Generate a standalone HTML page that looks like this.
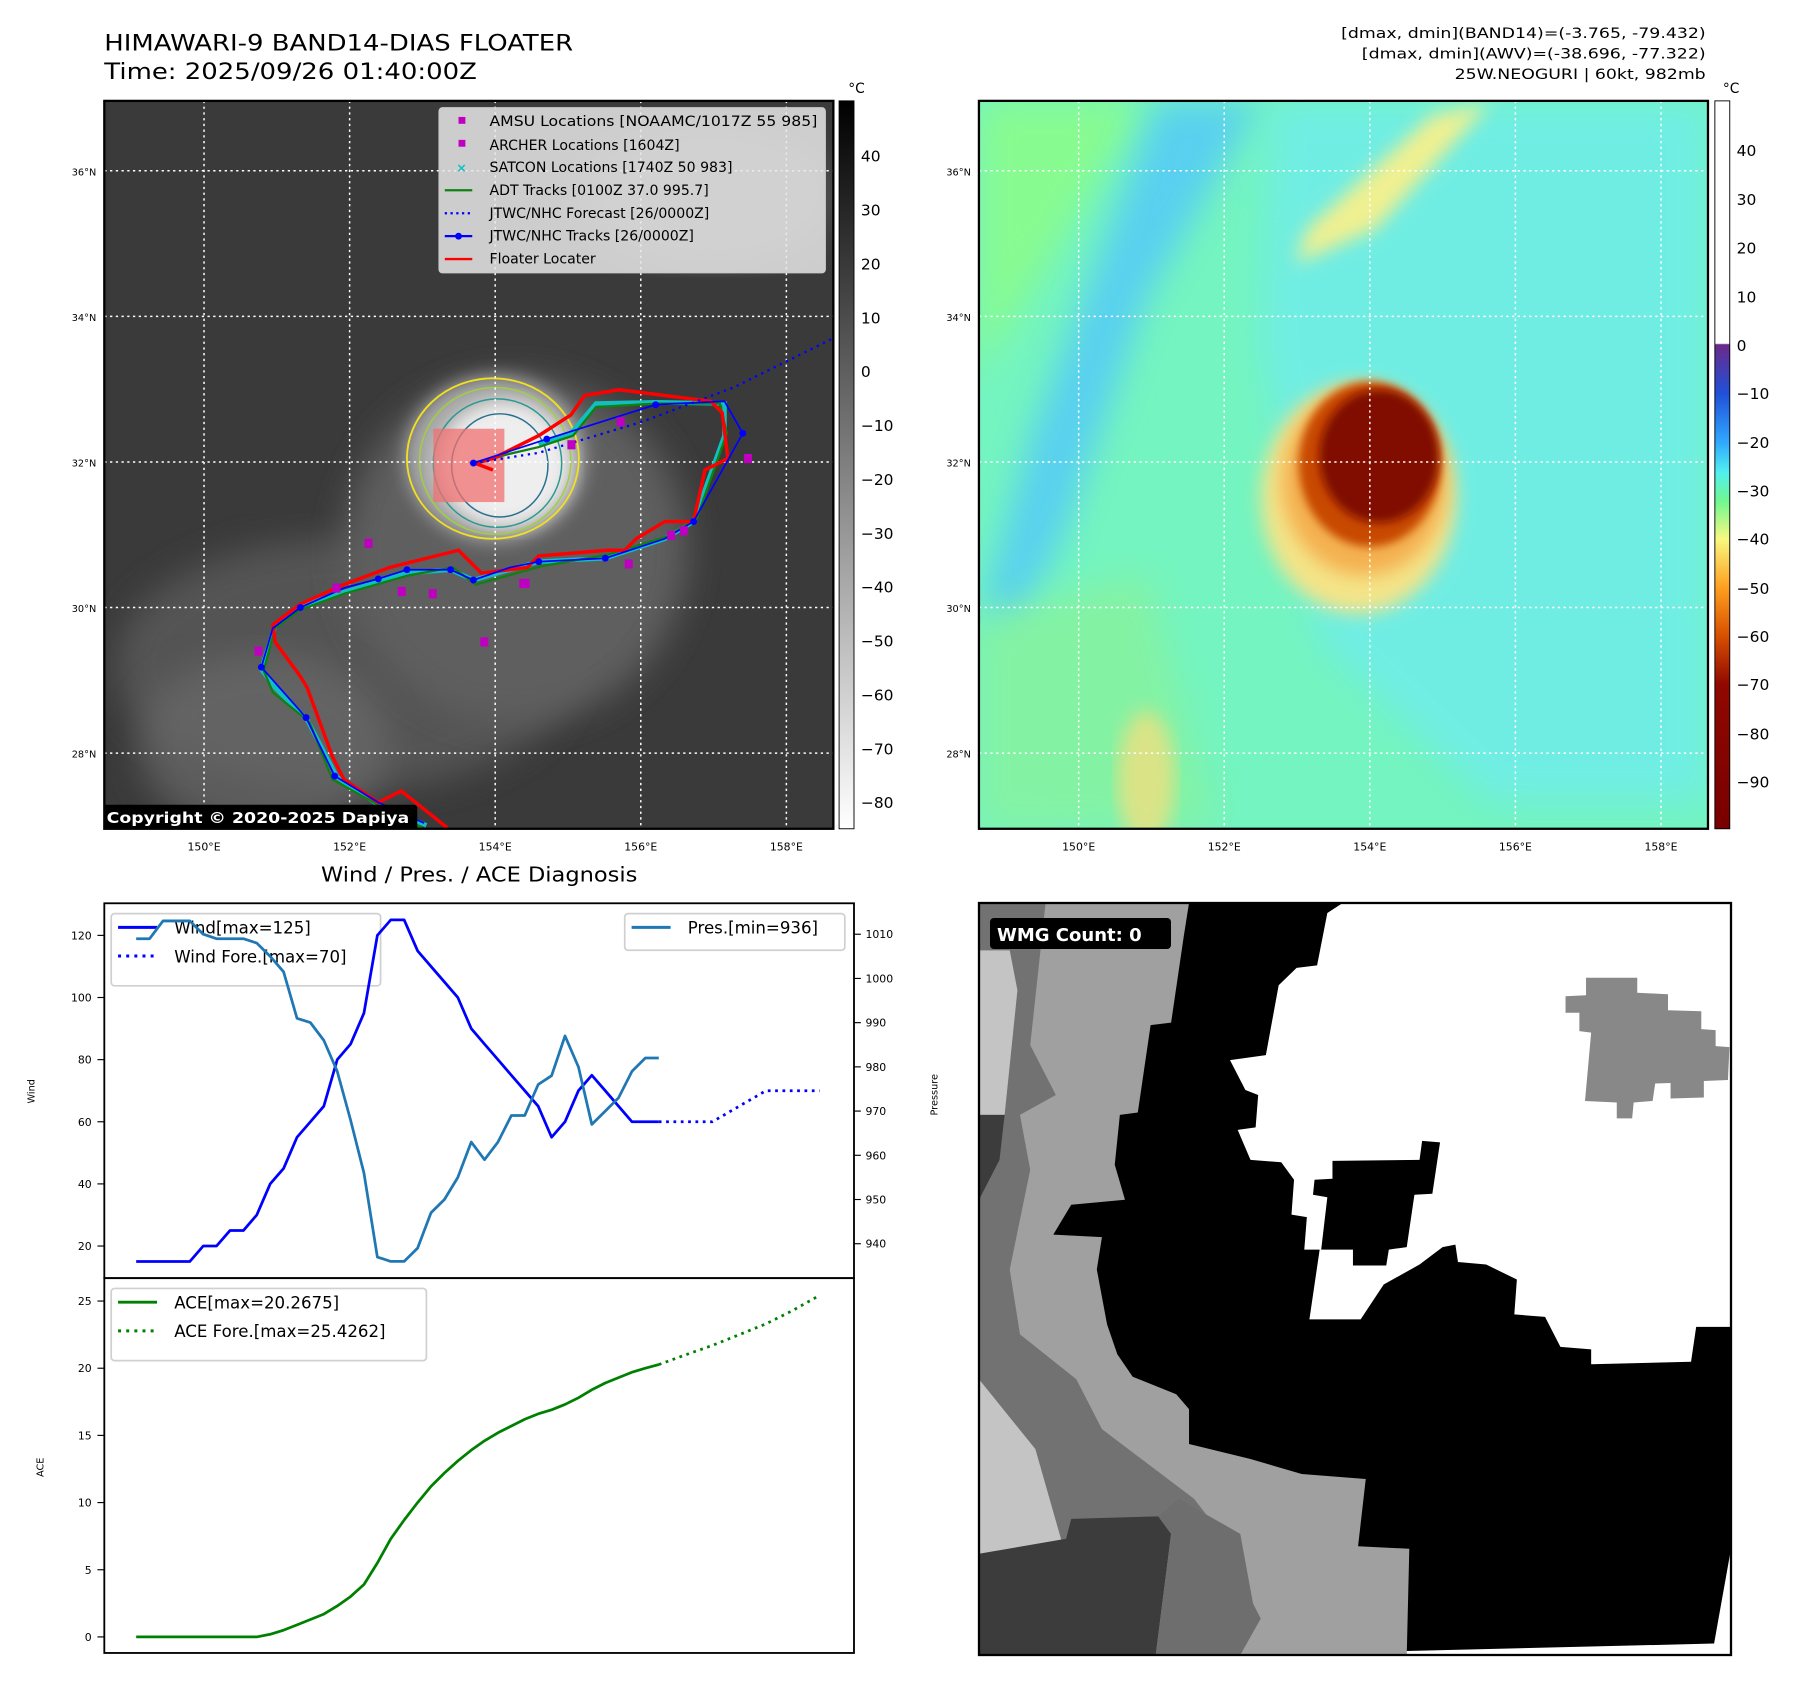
<!DOCTYPE html>
<html><head><meta charset="utf-8"><style>
html,body{margin:0;padding:0;background:#fff;width:1797px;height:1690px;overflow:hidden}
svg{display:block}
text{font-family:"DejaVu Sans","Liberation Sans",sans-serif}
</style></head><body>
<svg id="root" width="1797" height="1690" viewBox="0 0 1797 1690" xmlns="http://www.w3.org/2000/svg">
<defs>
<linearGradient id="gcb" x1="0" y1="0" x2="0" y2="1"><stop offset="0" stop-color="#000"/><stop offset="1" stop-color="#fff"/></linearGradient>
<linearGradient id="ccb" x1="0" y1="0" x2="0" y2="1">
<stop offset="0" stop-color="#fff"/><stop offset="0.333" stop-color="#fff"/><stop offset="0.335" stop-color="#6a2a8a"/>
<stop offset="0.402" stop-color="#2050d8"/><stop offset="0.469" stop-color="#30a8ff"/><stop offset="0.51" stop-color="#50f0f0"/>
<stop offset="0.55" stop-color="#70f890"/><stop offset="0.602" stop-color="#f8f880"/><stop offset="0.668" stop-color="#ffa020"/>
<stop offset="0.735" stop-color="#d85000"/><stop offset="0.802" stop-color="#900800"/><stop offset="1" stop-color="#780000"/></linearGradient>
<filter id="bl8"><feGaussianBlur stdDeviation="8"/></filter>
<filter id="bl15"><feGaussianBlur stdDeviation="15"/></filter>
<filter id="bl4"><feGaussianBlur stdDeviation="4"/></filter>
<clipPath id="clipL"><rect x="91" y="88" width="636" height="635"/></clipPath>
<clipPath id="clipR"><rect x="854" y="88" width="636" height="635"/></clipPath>
</defs>

<g transform="scale(1.1463)">
<text x="91" y="44" font-size="19.5" textLength="409" lengthAdjust="spacingAndGlyphs">HIMAWARI-9 BAND14-DIAS FLOATER</text>
<text x="91" y="69" font-size="19.5" textLength="325" lengthAdjust="spacingAndGlyphs">Time: 2025/09/26 01:40:00Z</text>
<g font-size="12.5" text-anchor="end">
<text x="1488" y="33" textLength="318" lengthAdjust="spacingAndGlyphs">[dmax, dmin](BAND14)=(-3.765, -79.432)</text>
<text x="1488" y="51" textLength="300" lengthAdjust="spacingAndGlyphs">[dmax, dmin](AWV)=(-38.696, -77.322)</text>
<text x="1488" y="69" textLength="219" lengthAdjust="spacingAndGlyphs">25W.NEOGURI | 60kt, 982mb</text></g>

<!-- left map -->
<g clip-path="url(#clipL)">
<rect x="91" y="88" width="636" height="635" fill="#3a3a3a"/>
<ellipse cx="300" cy="580" rx="200" ry="110" fill="#606060" filter="url(#bl15)" opacity="0.7"/>
<ellipse cx="450" cy="480" rx="150" ry="150" fill="#5e5e5e" filter="url(#bl15)"/>
<ellipse cx="230" cy="650" rx="110" ry="80" fill="#6a6a6a" filter="url(#bl15)" opacity="0.7"/>
<ellipse cx="620" cy="170" rx="110" ry="60" fill="#707070" filter="url(#bl15)" opacity="0.5"/>
<ellipse cx="432" cy="400" rx="78" ry="72" fill="#a8a8a8" filter="url(#bl8)"/>
<ellipse cx="440" cy="405" rx="58" ry="55" fill="#eee" filter="url(#bl8)"/>
<ellipse cx="430" cy="400" rx="75" ry="70" fill="none" stroke="#f0e020" stroke-width="1.6"/>
<ellipse cx="432" cy="402" rx="66" ry="64" fill="none" stroke="#a0d040" stroke-width="1.3"/>
<ellipse cx="434" cy="404" rx="56" ry="56" fill="none" stroke="#2a9a90" stroke-width="1.3"/>
<ellipse cx="436" cy="406" rx="42" ry="45" fill="none" stroke="#2a7090" stroke-width="1.3"/>
<rect x="378" y="374" width="62" height="64" fill="#f07070" opacity="0.75"/>
<g stroke="#fff" stroke-width="1.3" stroke-dasharray="2,3">
<line x1="178" y1="88" x2="178" y2="723"/><line x1="305" y1="88" x2="305" y2="723"/><line x1="432" y1="88" x2="432" y2="723"/><line x1="559" y1="88" x2="559" y2="723"/><line x1="686" y1="88" x2="686" y2="723"/>
<line x1="91" y1="149" x2="727" y2="149"/><line x1="91" y1="276" x2="727" y2="276"/><line x1="91" y1="403" x2="727" y2="403"/><line x1="91" y1="530" x2="727" y2="530"/><line x1="91" y1="657" x2="727" y2="657"/></g>
<polyline fill="none" stroke="#10c0c0" stroke-width="4" points="372,720 330,702 294,678 268,628 240,600 228,584 240,546 264,528 302,516 355,500 393,497 413,506 470,490 528,487 580,470 605,455 632,380 632,352 572,351 520,352 498,378 470,388"/>
<polyline fill="none" stroke="#108010" stroke-width="2" points="368,722 326,700 290,680 270,630 238,604 230,585 240,548 262,532 300,518 356,502 395,495 415,510 472,494 530,484 582,468 608,452 634,378 628,352 575,352 520,355 500,380 470,390 440,397 415,405"/>
<polyline fill="none" stroke="#f00" stroke-width="3" points="390,722 350,690 330,700 300,680 290,660 268,600 262,590 240,560 238,545 262,527 300,510 340,495 400,480 420,500 460,495 470,485 530,480 545,480 555,470 580,455 605,455 615,410 635,400 630,360 620,350 540,340 510,345 498,362 470,380 430,400 414,404 430,410"/>
<polyline fill="none" stroke="#00f" stroke-width="2" stroke-dasharray="2,4" points="413,404 470,395 560,368 640,338 727,295"/>
<polyline id="jtwc" fill="none" stroke="#00f" stroke-width="1.5" points="370,718 330,700 292,677 267,626 228,582 238,548 262,530 300,513 330,505 355,497 393,497 413,506 445,495 470,490 528,487 580,470 605,455 648,378 632,350 572,353 477,383 413,404"/>
<g fill="#00f">
<circle cx="292" cy="677" r="3"/><circle cx="267" cy="626" r="3"/><circle cx="228" cy="582" r="3"/><circle cx="262" cy="530" r="3"/><circle cx="330" cy="505" r="3"/><circle cx="355" cy="497" r="3"/><circle cx="393" cy="497" r="3"/><circle cx="413" cy="506" r="3"/><circle cx="470" cy="490" r="3"/><circle cx="528" cy="487" r="3"/><circle cx="605" cy="455" r="3"/><circle cx="648" cy="378" r="3"/><circle cx="572" cy="353" r="3"/><circle cx="477" cy="383" r="3"/><circle cx="413" cy="404" r="3"/></g>
<g fill="#c000c0">
<rect x="318" y="470" width="7" height="8"/><rect x="290" y="509" width="7" height="8"/><rect x="347" y="512" width="7" height="8"/><rect x="374" y="514" width="7" height="8"/><rect x="453" y="505" width="9" height="8"/><rect x="419" y="556" width="7" height="8"/><rect x="222" y="564" width="7" height="8"/><rect x="495" y="384" width="7" height="8"/><rect x="538" y="364" width="7" height="8"/><rect x="649" y="396" width="7" height="8"/><rect x="582" y="463" width="7" height="8"/><rect x="593" y="459" width="7" height="8"/><rect x="545" y="488" width="7" height="8"/></g>
<rect x="89" y="702" width="275" height="22" rx="3" fill="#000"/>
<text x="93" y="718" font-size="13" font-weight="bold" fill="#fff" textLength="264" lengthAdjust="spacingAndGlyphs">Copyright © 2020-2025 Dapiya</text>
</g>
<rect x="91" y="88" width="636" height="635" fill="none" stroke="#000" stroke-width="2"/>
<!-- legend -->
<g>
<rect x="383" y="94" width="337" height="144" rx="3" fill="#e8e8e8" fill-opacity="0.85" stroke="#ccc"/>
<g font-size="12.3">
<rect x="400" y="102" width="6" height="6" fill="#c000c0"/><text x="427" y="110" textLength="286" lengthAdjust="spacingAndGlyphs">AMSU Locations [NOAAMC/1017Z 55 985]</text>
<rect x="400" y="122" width="6" height="6" fill="#c000c0"/><text x="427" y="131">ARCHER Locations [1604Z]</text>
<text x="398" y="150" fill="#10c0c0" font-size="11" font-weight="bold">×</text><text x="427" y="150">SATCON Locations [1740Z 50 983]</text>
<line x1="388" y1="166" x2="412" y2="166" stroke="#108010" stroke-width="2"/><text x="427" y="170">ADT Tracks [0100Z 37.0 995.7]</text>
<line x1="388" y1="186" x2="412" y2="186" stroke="#00f" stroke-width="2" stroke-dasharray="2,3"/><text x="427" y="190">JTWC/NHC Forecast [26/0000Z]</text>
<line x1="388" y1="206" x2="412" y2="206" stroke="#00f" stroke-width="2"/><circle cx="400" cy="206" r="3" fill="#00f"/><text x="427" y="210">JTWC/NHC Tracks [26/0000Z]</text>
<line x1="388" y1="226" x2="412" y2="226" stroke="#f00" stroke-width="2"/><text x="427" y="230">Floater Locater</text></g></g>
<!-- left axis ticks -->
<g font-size="8.5" text-anchor="end">
<text x="84" y="153">36°N</text><text x="84" y="280">34°N</text><text x="84" y="407">32°N</text><text x="84" y="534">30°N</text><text x="84" y="661">28°N</text></g>
<g font-size="9.5" text-anchor="middle">
<text x="178" y="742">150°E</text><text x="305" y="742">152°E</text><text x="432" y="742">154°E</text><text x="559" y="742">156°E</text><text x="686" y="742">158°E</text></g>
<!-- left colorbar -->
<rect x="732" y="88" width="13" height="635" fill="url(#gcb)" stroke="#000" stroke-width="0.8"/>
<text x="740" y="81" font-size="12">°C</text>
<g font-size="13.5">
<text x="751" y="141">40</text><text x="751" y="188">30</text><text x="751" y="235">20</text><text x="751" y="282">10</text><text x="751" y="329">0</text><text x="751" y="376">−10</text><text x="751" y="423">−20</text><text x="751" y="470">−30</text><text x="751" y="517">−40</text><text x="751" y="564">−50</text><text x="751" y="611">−60</text><text x="751" y="658">−70</text><text x="751" y="705">−80</text></g>

<!-- right map -->
<g clip-path="url(#clipR)">
<rect x="854" y="88" width="636" height="635" fill="#74f4c0"/>
<polygon points="854,88 1000,88 900,250 854,330" fill="#88fb90" filter="url(#bl15)"/>
<polygon points="1010,88 1100,88 1000,260 930,460 880,560 860,520 900,380" fill="#58d0f0" filter="url(#bl15)"/>
<polygon points="1110,88 1490,88 1490,700 1300,700 1150,560 1100,300" fill="#70ecec" filter="url(#bl15)" opacity="0.8"/>
<polygon points="854,540 1000,500 1060,720 854,723" fill="#86f2a0" filter="url(#bl15)" opacity="0.9"/>
<polygon points="1140,200 1250,100 1300,90 1200,200 1130,230" fill="#f0f090" filter="url(#bl8)"/>
<ellipse cx="1000" cy="680" rx="25" ry="60" fill="#f0e080" filter="url(#bl8)" opacity="0.8"/>
<ellipse cx="1185" cy="435" rx="85" ry="100" fill="#f4e488" filter="url(#bl8)"/>
<ellipse cx="1190" cy="420" rx="72" ry="82" fill="#f4b050" filter="url(#bl8)"/>
<ellipse cx="1195" cy="405" rx="62" ry="72" fill="#c84a00" filter="url(#bl4)"/>
<ellipse cx="1203" cy="398" rx="52" ry="58" fill="#800800" filter="url(#bl4)"/>
<g stroke="#fff" stroke-width="1.3" stroke-dasharray="2,3">
<line x1="941" y1="88" x2="941" y2="723"/><line x1="1068" y1="88" x2="1068" y2="723"/><line x1="1195" y1="88" x2="1195" y2="723"/><line x1="1322" y1="88" x2="1322" y2="723"/><line x1="1449" y1="88" x2="1449" y2="723"/>
<line x1="854" y1="149" x2="1490" y2="149"/><line x1="854" y1="276" x2="1490" y2="276"/><line x1="854" y1="403" x2="1490" y2="403"/><line x1="854" y1="530" x2="1490" y2="530"/><line x1="854" y1="657" x2="1490" y2="657"/></g>
</g>
<rect x="854" y="88" width="636" height="635" fill="none" stroke="#000" stroke-width="2"/>
<g font-size="8.5" text-anchor="end">
<text x="847" y="153">36°N</text><text x="847" y="280">34°N</text><text x="847" y="407">32°N</text><text x="847" y="534">30°N</text><text x="847" y="661">28°N</text></g>
<g font-size="9.5" text-anchor="middle">
<text x="941" y="742">150°E</text><text x="1068" y="742">152°E</text><text x="1195" y="742">154°E</text><text x="1322" y="742">156°E</text><text x="1449" y="742">158°E</text></g>
<rect x="1496" y="88" width="13" height="635" fill="url(#ccb)" stroke="#000" stroke-width="0.8"/>
<text x="1503" y="81" font-size="12">°C</text>
<g font-size="13.5">
<text x="1515" y="136">40</text><text x="1515" y="179">30</text><text x="1515" y="221">20</text><text x="1515" y="264">10</text><text x="1515" y="306">0</text><text x="1515" y="348">−10</text><text x="1515" y="391">−20</text><text x="1515" y="433">−30</text><text x="1515" y="475">−40</text><text x="1515" y="518">−50</text><text x="1515" y="560">−60</text><text x="1515" y="602">−70</text><text x="1515" y="645">−80</text><text x="1515" y="687">−90</text></g>

<!-- diagnosis chart -->
<text x="418" y="769" font-size="17.5" text-anchor="middle" textLength="276" lengthAdjust="spacingAndGlyphs">Wind / Pres. / ACE Diagnosis</text>
<g id="chart"></g>
</g>

<!-- WMG panel in real coords -->
<g>
<svg x="979" y="903" width="752" height="752" viewBox="0 5 1468 1508" preserveAspectRatio="none">
<rect x="0" y="5" width="1468" height="1508" fill="#a0a0a0"/>
<polygon fill="#727272" points="60,5 130,5 100,290 150,390 80,430 100,540 60,740 80,870 190,960 240,1060 330,1130 420,1200 450,1240 200,1240 170,1280 0,1310 0,5"/>
<polygon fill="#c4c4c4" points="0,100 60,100 75,180 50,430 0,430"/>
<polygon fill="#c4c4c4" points="0,960 110,1100 160,1280 130,1380 0,1330"/>
<polygon fill="#3c3c3c" points="0,430 50,430 40,520 0,600"/>
<polygon fill="#3c3c3c" points="0,1310 170,1280 180,1240 350,1235 375,1270 345,1513 0,1513"/>
<polygon fill="#6e6e6e" points="345,1513 375,1270 350,1235 390,1200 450,1235 510,1270 535,1410 550,1440 510,1513"/>
<polygon fill="#000" points="410,5 400,70 375,245 335,250 310,425 275,430 265,530 285,600 180,610 145,670 240,675 230,740 250,850 270,910 300,955 385,990 410,1020 410,1090 530,1120 630,1150 755,1160 740,1295 840,1300 835,1513 1468,1513 1468,5"/>
<polygon fill="#fff" points="680,25 710,5 1468,5 1468,855 1400,855 1390,925 1195,930 1195,900 1135,895 1105,835 1045,830 1050,760 990,730 935,725 930,690 905,695 860,730 790,770 745,840 645,840 665,700 635,700 640,635 610,630 615,560 590,525 530,520 505,460 540,455 545,390 520,380 490,320 560,310 585,170 620,135 660,130"/>
<polygon fill="#000" points="690,522 860,520 865,482 900,485 885,588 850,590 835,695 800,700 795,732 730,732 730,700 668,700 680,595 652,590 655,560 690,558"/>
<polygon fill="#888" points="1185,155 1285,155 1285,185 1345,188 1345,220 1410,222 1410,258 1438,260 1438,292 1465,294 1462,360 1415,362 1415,395 1350,397 1350,366 1320,367 1315,402 1278,405 1275,437 1245,437 1245,405 1183,402 1195,265 1172,262 1172,225 1145,225 1145,192 1185,190"/>
<polygon fill="#fff" points="1468,1300 1468,1513 835,1513 835,1505 1435,1490"/>
</svg>
<rect x="979" y="903" width="752" height="752" fill="none" stroke="#000" stroke-width="2.3"/>
<rect x="990" y="918" width="181" height="31" rx="4" fill="#000"/>
<text x="997" y="941" font-size="18" font-weight="bold" fill="#fff">WMG Count: 0</text>
</g>
</svg>

<script>
// Chart data (index = 6-hourly step)
const windHist = [15,15,15,15,15,20,20,25,25,30,40,45,55,60,65,80,85,95,120,125,125,115,110,105,100,90,85,80,75,70,65,55,60,70,75,70,65,60,60,60];
const windFore = [60,60,60,65,70,70,70];
const presHist = [1009,1009,1013,1013,1013,1010,1009,1009,1009,1008,1005,1001.5,991,990,986,979,968,956,937,936,936,939,947,950,955,963,959,963,969,969,976,978,987,980,967,970,973,979,982,982];
const aceHist = [0,0,0,0,0,0,0,0,0,0,0.2,0.5,0.9,1.3,1.7,2.3,3.0,3.9,5.5,7.3,8.7,10.0,11.2,12.2,13.1,13.9,14.6,15.2,15.7,16.2,16.6,16.9,17.3,17.8,18.4,18.9,19.3,19.7,20.0,20.27];
const aceFore = [20.27,21.0,21.7,22.5,23.3,24.3,25.43];
const windTicks = [20,40,60,80,100,120];
const presTicks = [940,950,960,970,980,990,1000,1010];
const aceTicks = [0,5,10,15,20,25];

const NS='http://www.w3.org/2000/svg';
const g=document.getElementById('chart');
function mk(tag,attrs,parent){const e=document.createElementNS(NS,tag);for(const k in attrs)e.setAttribute(k,attrs[k]);(parent||g).appendChild(e);return e;}
const nF=windHist.length-1+(windFore.length-1)*2;
const X0=118.8,X1=715;
const xS=i=>X0+(X1-X0)*i/nF;
const foreX=j=>xS(windHist.length-1+j*2);
const yW=v=>1087-(v-20)*2.71;
const yP=p=>815+(1010-p)*3.857;
const yA=a=>1428-a*11.72;

function line(pts,attrs,name){
  const e=mk('polyline',Object.assign({fill:'none','stroke-linejoin':'round',points:pts.map(p=>p[0].toFixed(1)+','+p[1].toFixed(1)).join(' ')},attrs));
  
  
  return e;
}
function legend(x,y,w,h,items,name){
  const grp=mk('g',{});
  
  
  mk('rect',{x:x,y:y,width:w,height:h,rx:3,fill:'#fff','fill-opacity':0.85,stroke:'#d0d0d0','stroke-width':1.5},grp);
  items.forEach((it,k)=>{
    const cy=y+12+k*25;
    mk('line',Object.assign({x1:x+6,x2:x+40,y1:cy,y2:cy,stroke:it.c,'stroke-width':2.6},it.d?{'stroke-dasharray':'2.6,4.5'}:{}),grp);
    const t=mk('text',{x:x+55,y:cy+5.5,'font-size':14.5},grp);t.textContent=it.t;
  });
}
legend(97,797,235,63,[{c:'#0000ff',t:'Wind[max=125]'},{c:'#0000ff',t:'Wind Fore.[max=70]',d:1}],'wind-legend');
legend(545,797,192,32,[{c:'#1f77b4',t:'Pres.[min=936]'}],'pressure-legend');
legend(97,1124,275,63,[{c:'#008000',t:'ACE[max=20.2675]'},{c:'#008000',t:'ACE Fore.[max=25.4262]',d:1}],'ace-legend');
// axes boxes
const b1=mk('rect',{x:91,y:788,width:654,height:327,fill:'none',stroke:'#000','stroke-width':1.6});


const b2=mk('rect',{x:91,y:1115,width:654,height:327,fill:'none',stroke:'#000','stroke-width':1.6});


// series
line(windHist.map((v,i)=>[xS(i),yW(v)]),{stroke:'#0000ff','stroke-width':2.4},'wind-line');
line(windFore.map((v,j)=>[foreX(j),yW(v)]),{stroke:'#0000ff','stroke-width':2.4,'stroke-dasharray':'2.4,4'},'wind-forecast-line');
line(presHist.map((v,i)=>[xS(i),yP(v)]),{stroke:'#1f77b4','stroke-width':2.4},'pressure-line');
line(aceHist.map((v,i)=>[xS(i),yA(v)]),{stroke:'#008000','stroke-width':2.4},'ace-line');
line(aceFore.map((v,j)=>[foreX(j),yA(v)]),{stroke:'#008000','stroke-width':2.4,'stroke-dasharray':'2.4,4'},'ace-forecast-line');
// ticks
windTicks.forEach(v=>{
  const t=mk('line',{x1:85,x2:91,y1:yW(v),y2:yW(v),stroke:'#000','stroke-width':1});
  
  
  const l=mk('text',{x:80,y:yW(v)+3.5,'font-size':9.5,'text-anchor':'end'});l.textContent=v;
  
  
});
presTicks.forEach(v=>{
  const t=mk('line',{x1:745,x2:751,y1:yP(v),y2:yP(v),stroke:'#000','stroke-width':1});
  
  
  const l=mk('text',{x:755,y:yP(v)+3.5,'font-size':9.5});l.textContent=v;
  
  
});
aceTicks.forEach(v=>{
  const t=mk('line',{x1:85,x2:91,y1:yA(v),y2:yA(v),stroke:'#000','stroke-width':1});
  
  
  const l=mk('text',{x:80,y:yA(v)+3.5,'font-size':9.5,'text-anchor':'end'});l.textContent=v;
  
  
});
function rot(txt,x,y,name){const l=mk('text',{x:x,y:y,'font-size':8.5,'text-anchor':'middle',transform:'rotate(-90 '+x+' '+y+')'});l.textContent=txt;
  
  }
rot('Wind',30,952,'wind-axis-title');
rot('Pressure',818,955,'pressure-axis-title');
rot('ACE',38,1280,'ace-axis-title');
</script>
</body></html>
